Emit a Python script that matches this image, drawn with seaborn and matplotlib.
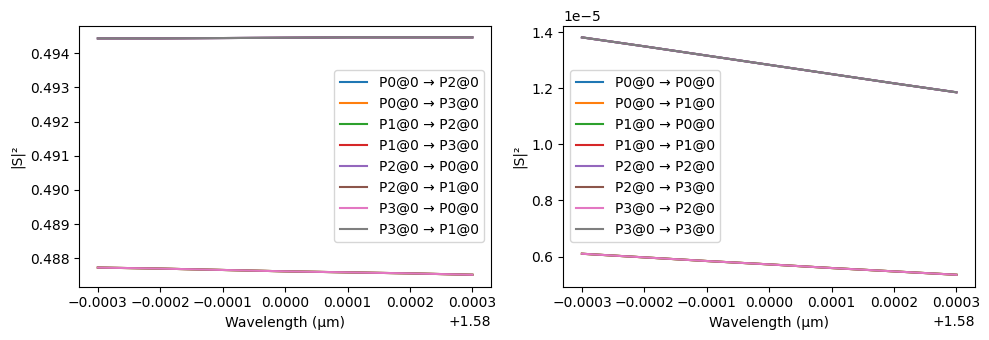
import matplotlib
matplotlib.use("Agg")
import matplotlib.pyplot as plt
import seaborn as sns
import pandas as pd

# wavelength samples (µm)
wavelength = [1.5797, 1.5798, 1.5799, 1.5800, 1.5801, 1.5802, 1.5803]

# left panel series
left_labels = ["P0@0 → P2@0", "P0@0 → P3@0", "P1@0 → P2@0", "P1@0 → P3@0",
               "P2@0 → P0@0", "P2@0 → P1@0", "P3@0 → P0@0", "P3@0 → P1@0"]
left_high = [0.49443, 0.49443, 0.49444, 0.49445, 0.49446, 0.49446, 0.49446]
left_low = [0.48773, 0.48770, 0.48766, 0.48762, 0.48759, 0.48756, 0.48752]
left_group = ["high", "low", "low", "high", "high", "low", "low", "high"]

# right panel series
right_labels = ["P0@0 → P0@0", "P0@0 → P1@0", "P1@0 → P0@0", "P1@0 → P1@0",
                "P2@0 → P2@0", "P2@0 → P3@0", "P3@0 → P2@0", "P3@0 → P3@0"]
right_high = [1.382e-5, 1.350e-5, 1.317e-5, 1.284e-5, 1.251e-5, 1.218e-5, 1.186e-5]
right_low = [0.610e-5, 0.597e-5, 0.584e-5, 0.572e-5, 0.559e-5, 0.547e-5, 0.535e-5]
right_group = ["high", "low", "low", "high", "high", "low", "low", "high"]


def build(labels, groups, high, low):
    rows = []
    for lab, g in zip(labels, groups):
        vals = high if g == "high" else low
        for w, v in zip(wavelength, vals):
            rows.append({"Wavelength (µm)": w, "|S|²": v, "series": lab})
    return pd.DataFrame(rows)


df_left = build(left_labels, left_group, left_high, left_low)
df_right = build(right_labels, right_group, right_high, right_low)

fig, axes = plt.subplots(1, 2, figsize=(9.89, 3.4), dpi=100)
fig.subplots_adjust(left=0.080, right=0.986, top=0.925, bottom=0.157, wspace=0.175)

pal = sns.color_palette("tab10", 8)

sns.lineplot(data=df_left, x="Wavelength (µm)", y="|S|²", hue="series",
             hue_order=left_labels, palette=pal, ax=axes[0])
sns.lineplot(data=df_right, x="Wavelength (µm)", y="|S|²", hue="series",
             hue_order=right_labels, palette=pal, ax=axes[1])

sns.move_legend(axes[0], "center right", title=None)
sns.move_legend(axes[1], "center left", title=None)

fig.savefig("out.png", dpi=100)
